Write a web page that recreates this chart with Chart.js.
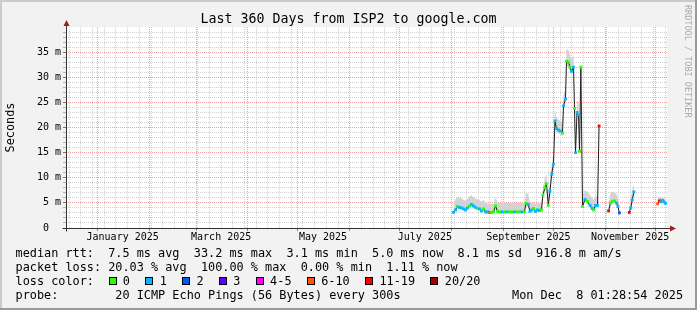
<!DOCTYPE html>
<html>
<head>
<meta charset="utf-8">
<title>Last 360 Days from ISP2 to google.com</title>
<script src="https://cdn.jsdelivr.net/npm/chart.js@4.4.1/dist/chart.umd.min.js"></script>
<style>
  html, body { margin: 0; padding: 0; background: #f2f2f2; }
  canvas { display: block; }
</style>
</head>
<body>
<canvas id="chart" width="697" height="310"></canvas>
<script>
// time range: 360 days ending Mon Dec 8 01:28:54 2025
const rangeStart = Date.UTC(2024, 11, 13, 1, 28, 54);
const rangeDays = 360;

// samples, x = days since range start (null = no data)
const days = [
  232.1, 233.3, 234.5, 235.7, 236.9, 238.1, 239.3, 240.5, 241.7, 242.9,
  244.1, 245.3, 246.5, 247.7, 248.9, 250.1, 251.3, 252.5, 253.7, 254.9,
  256.1, 257.3, 258.5, 259.7, 261.2, 262.7, 264.2, 265.7, 267.2, 268.7,
  270.1, 271.6, 273.1, 274.6, 275.5, 276.9, 277.9, 279.1, 280.0, 281.2,
  282.4, 283.6, 284.8, 285.7, 286.9, 287.8, 288.9, 289.9, 290.9, 292.0,
  292.9, 293.8, 295.0, 296.2, 297.4, 298.0, 299.2, 299.8, 301.0, 301.9,
  302.8, 304.0, 304.6, 305.2, 306.1, 307.0, 307.6, 308.4, 309.4, 310.9,
  312.3, 313.9, 315.1, 316.1, 317.2, 318.4, 319.3, 320.0,
  325.0, 326.2, 327.4, 328.5, 329.7, 330.6, 331.5, 332.5,
  337.4, 338.3, 339.2, 340.2, 341.0,
  354.4, 355.4, 356.4, 357.3, 358.2, 359.1
];

// median rtt in ms
const medianMs = [
  3.1, 3.6, 4.3, 4.1, 4.0, 3.8, 3.6, 4.0, 4.4, 4.7,
  4.4, 4.1, 3.9, 3.8, 3.4, 3.8, 3.2, 3.2, 3.1, 3.1,
  3.2, 4.4, 3.3, 3.2, 3.2, 3.2, 3.2, 3.2, 3.2, 3.2,
  3.2, 3.2, 3.2, 3.2, 4.9, 4.7, 3.3, 3.6, 3.9, 3.3,
  3.6, 3.5, 3.6, 6.6, 8.0, 8.8, 4.5, 7.3, 10.7, 12.7,
  21.3, 19.8, 19.5, 19.3, 18.9, 24.3, 25.7, 33.2, 33.0, 32.0,
  31.2, 32.0, 23.8, 15.0, 23.0, 22.5, 15.3, 32.0, 4.3, 5.7,
  5.3, 4.5, 3.9, 3.6, 4.5, 4.5, 20.3, null,
  3.4, 5.0, 5.3, 5.4, 5.0, 4.3, 3.0, null,
  3.1, 4.0, 5.6, 7.2, null,
  4.8, 5.4, 5.2, 5.5, 5.2, 4.9
];

// loss bucket per sample (index into lossLabels)
const lossClass = [
  1, 1, 0, 1, 1, 1, 1, 1, 0, 1,
  1, 1, 0, 1, 1, 0, 1, 1, 5, 0,
  0, 0, 0, 0, 1, 0, 1, 0, 0, 1,
  0, 0, 1, 0, 0, 1, 1, 1, 0, 1,
  1, 1, 0, 0, 0, 0, 0, 1, 1, 1,
  1, 1, 1, 1, 0, 1, 1, 0, 0, 0,
  1, 1, 0, 1, 1, 1, 0, 0, 0, 1,
  0, 1, 1, 0, 1, 1, 6, null,
  6, 0, 0, 0, 1, 1, 2, null,
  6, 1, 1, 1, null,
  5, 6, 1, 1, 1, 1
];

// smoke (spread of the 20 pings), ms
const smokeLowMs = [
  2.9, 3.3, 3.9, 3.8, 3.7, 3.5, 3.3, 3.7, 4.0, 4.3,
  4.0, 3.8, 3.6, 3.5, 3.1, 3.4, 2.9, 2.9, 2.9, 2.9,
  2.9, 3.9, 3.0, 3.0, 3.0, 3.0, 3.0, 3.0, 3.0, 3.0,
  3.0, 3.0, 3.0, 3.0, 4.3, 4.2, 3.0, 3.3, 3.5, 3.0,
  3.3, 3.2, 3.3, 6.0, 7.4, 8.1, 4.1, 6.8, 10.0, 12.0,
  20.4, 19.1, 18.8, 18.6, 18.2, 23.5, 24.8, 32.2, 32.0, 31.2,
  30.4, 31.2, 23.0, 14.3, 22.2, 21.8, 14.6, 31.2, 3.9, 5.2,
  4.8, 4.1, 3.5, 3.3, 4.1, 4.1, 19.0, null,
  3.1, 4.6, 4.9, 5.0, 4.6, 3.9, 2.8, null,
  2.9, 3.7, 5.2, 6.7, null,
  4.5, 5.0, 4.9, 5.1, 4.9, 4.6
];
const smokeHighMs = [
  5.0, 5.6, 6.2, 6.0, 5.9, 5.6, 5.4, 5.8, 6.3, 6.5,
  6.1, 5.8, 5.7, 5.5, 5.2, 5.6, 5.0, 4.9, 4.8, 4.8,
  4.9, 6.1, 5.1, 5.0, 5.0, 5.0, 5.0, 5.0, 5.0, 5.0,
  5.0, 5.0, 5.0, 5.0, 7.0, 6.8, 5.0, 5.0, 5.2, 4.8,
  5.0, 4.9, 5.0, 8.2, 9.8, 10.6, 6.3, 9.0, 12.6, 14.8,
  23.6, 22.0, 21.5, 21.4, 21.0, 26.5, 27.8, 35.6, 35.4, 34.5,
  33.6, 34.4, 26.0, 17.0, 25.3, 24.8, 17.4, 34.2, 6.8, 7.5,
  7.2, 6.6, 6.0, 5.6, 6.3, 6.2, 27.0, null,
  5.0, 7.0, 7.2, 7.0, 6.8, 6.0, 4.6, null,
  4.8, 6.0, 7.5, 8.7, null,
  6.0, 6.2, 6.0, 6.0, 5.9, 5.7
];

const lossLabels = ['0', '1', '2', '3', '4-5', '6-10', '11-19', '20/20'];
const lossColors = ['#26ff00', '#00b8ff', '#0059ff', '#5e00ff', '#ff00ff', '#ff5500', '#ff0000', '#a10000'];

// y axis: minor line every 1 ms, labels every 5 ms
const yMax = 40;
const yLabelValues = [0, 5, 10, 15, 20, 25, 30, 35];
const yLabelTexts = ['0', '5 m', '10 m', '15 m', '20 m', '25 m', '30 m', '35 m'];

// x axis labels, centred mid-month
const labelMonths = [0, 2, 4, 6, 8, 10];
const labelTexts = ['January 2025', 'March 2025', 'May 2025', 'July 2025', 'September 2025', 'November 2025'];

const titleText = 'Last 360 Days from ISP2 to google.com';
const statLines = [
  'median rtt:  7.5 ms avg  33.2 ms max  3.1 ms min  5.0 ms now  8.1 ms sd  916.8 m am/s',
  'packet loss: 20.03 % avg  100.00 % max  0.00 % min  1.11 % now'
];
const probeText = 'probe:        20 ICMP Echo Pings (56 Bytes) every 300s';
const stampText = 'Mon Dec  8 01:28:54 2025';
const markText = 'RRDTOOL / TOBI OETIKER';

const MONO = "'DejaVu Sans Mono', monospace";
const GRID = '#d2d2d2';
const MGRID = '#f0a3a3';

// x ticks: sundays (minor), month starts (major), label points
const dayOf = (y, m, d) => (Date.UTC(y, m, d) - rangeStart) / 86400000;
const xTicks = [];
for (let m = 0; m < 12; m++) xTicks.push({ value: dayOf(2025, m, 1), kind: 'month' });
for (let d = dayOf(2024, 11, 15); d < rangeDays; d += 7) {
  if (!xTicks.some(t => Math.abs(t.value - d) < 0.01)) xTicks.push({ value: d, kind: 'week' });
}
labelMonths.forEach((m, i) => xTicks.push({ value: dayOf(2025, m, 16), kind: 'label', text: labelTexts[i] }));
xTicks.sort((a, b) => a.value - b.value);

const pts = arr => days.map((d, i) => ({ x: d, y: arr[i] }));

const rrdFrame = {
  id: 'rrdFrame',
  beforeDraw(chart) {
    const { ctx, chartArea: a, width: w, height: h } = chart;
    ctx.save();
    ctx.fillStyle = '#f2f2f2';
    ctx.fillRect(0, 0, w, h);
    ctx.fillStyle = '#cbcbcb';
    ctx.fillRect(0, 0, w, 2);
    ctx.fillRect(0, 0, 2, h);
    ctx.fillStyle = '#9a9a9a';
    ctx.fillRect(0, h - 2, w, 2);
    ctx.fillRect(w - 2, 0, 2, h);
    ctx.fillStyle = '#ffffff';
    ctx.fillRect(a.left, a.top, a.right - a.left, a.bottom - a.top);
    ctx.restore();
  },
  afterDraw(chart) {
    const { ctx, chartArea: a } = chart;
    const x0 = Math.round(a.left) + 0.5;
    const yb = Math.round(a.bottom) + 0.5;
    ctx.save();

    // axes + arrows
    ctx.strokeStyle = '#333333';
    ctx.lineWidth = 1;
    ctx.beginPath();
    ctx.moveTo(x0, yb + 3);
    ctx.lineTo(x0, a.top - 4);
    ctx.moveTo(x0 - 4, yb);
    ctx.lineTo(a.right + 3, yb);
    ctx.stroke();
    ctx.fillStyle = '#9b1f1f';
    ctx.beginPath();
    ctx.moveTo(x0, a.top - 7);
    ctx.lineTo(x0 - 3, a.top - 1);
    ctx.lineTo(x0 + 3, a.top - 1);
    ctx.fill();
    ctx.beginPath();
    ctx.moveTo(a.right + 9, yb);
    ctx.lineTo(a.right + 3, yb - 3);
    ctx.lineTo(a.right + 3, yb + 3);
    ctx.fill();

    // title
    ctx.fillStyle = '#000';
    ctx.textBaseline = 'alphabetic';
    ctx.font = '13.3px ' + MONO;
    ctx.textAlign = 'center';
    ctx.fillText(titleText, 348.5, 23);

    // legend
    ctx.textAlign = 'left';
    ctx.font = '11.85px ' + MONO;
    ctx.fillText(statLines[0], 15.5, 257);
    ctx.fillText(statLines[1], 15.5, 271);
    ctx.fillText('loss color:', 15.5, 285);
    const cw = 7.13;
    let bx = 108.5;
    lossLabels.forEach((lab, i) => {
      const rx = Math.round(bx);
      ctx.fillStyle = lossColors[i];
      ctx.fillRect(rx, 277, 8, 8);
      ctx.strokeStyle = '#000';
      ctx.strokeRect(rx + 0.5, 277.5, 7, 7);
      ctx.fillStyle = '#000';
      ctx.fillText(lab, bx + 14.3, 285);
      bx += 14.3 + lab.length * cw + 15.4;
    });
    ctx.fillText(probeText, 15.5, 299);
    ctx.fillText(stampText, 512, 299);

    // watermark
    ctx.translate(685, 5);
    ctx.rotate(Math.PI / 2);
    ctx.font = '8.5px ' + MONO;
    ctx.fillStyle = '#ababab';
    ctx.fillText(markText, 0, 0);
    ctx.restore();
  }
};

new Chart(document.getElementById('chart'), {
  type: 'line',
  data: {
    datasets: [
      {
        // loss colour marks on the median
        data: pts(medianMs),
        showLine: false,
        pointStyle: 'rect',
        pointRadius: 2,
        pointBorderWidth: 0,
        pointBackgroundColor: lossClass.map(k => k === null ? 'rgba(0,0,0,0)' : lossColors[k])
      },
      {
        // median line
        data: pts(medianMs),
        borderWidth: 1,
        borderColor: '#202020',
        pointRadius: 0,
        tension: 0,
        spanGaps: false
      },
      {
        // smoke top
        data: pts(smokeHighMs),
        borderWidth: 0,
        pointRadius: 0,
        backgroundColor: '#d3d3d3',
        fill: 3,
        tension: 0,
        spanGaps: false
      },
      {
        // smoke bottom
        data: pts(smokeLowMs),
        borderWidth: 0,
        pointRadius: 0,
        fill: false,
        tension: 0,
        spanGaps: false
      }
    ]
  },
  options: {
    responsive: false,
    animation: false,
    devicePixelRatio: 1,
    events: [],
    layout: { padding: { left: 0, right: 30, top: 27, bottom: 68 } },
    plugins: {
      legend: { display: false },
      tooltip: { enabled: false },
      title: { display: false }
    },
    scales: {
      x: {
        type: 'linear',
        min: 0,
        max: rangeDays,
        afterBuildTicks: s => { s.ticks = xTicks.map(t => ({ value: t.value })); },
        afterFit: s => { s.height = 14; },
        ticks: {
          autoSkip: false,
          maxRotation: 0,
          minRotation: 0,
          padding: 0,
          color: '#000',
          font: { family: MONO, size: 10 },
          callback: (v, i) => xTicks[i] && xTicks[i].kind === 'label' ? xTicks[i].text : ''
        },
        grid: {
          lineWidth: 1,
          tickLength: 3,
          color: c => {
            const t = xTicks[c.index];
            if (!t || t.kind === 'label') return 'rgba(0,0,0,0)';
            return t.kind === 'month' ? MGRID : GRID;
          },
          tickColor: c => {
            const t = xTicks[c.index];
            return t && t.kind === 'month' ? '#b07070' : 'rgba(0,0,0,0)';
          }
        },
        border: { display: false, dash: [1, 1] }
      },
      y: {
        type: 'linear',
        min: 0,
        max: yMax,
        afterBuildTicks: s => {
          const t = [];
          for (let v = 0; v <= yMax; v++) t.push({ value: v });
          s.ticks = t;
        },
        afterFit: s => { s.width = 66; },
        ticks: {
          autoSkip: false,
          padding: 2,
          color: '#000',
          font: { family: MONO, size: 10 },
          callback: v => {
            const k = yLabelValues.indexOf(v);
            return k < 0 ? '' : yLabelTexts[k].padEnd(3);
          }
        },
        grid: {
          lineWidth: 1,
          tickLength: 3,
          color: c => {
            const v = c.tick ? c.tick.value : 0;
            if (v === 0 || v === yMax) return 'rgba(0,0,0,0)';
            return v % 5 === 0 ? MGRID : GRID;
          },
          tickColor: c => {
            const v = c.tick ? c.tick.value : 0;
            if (v === yMax) return 'rgba(0,0,0,0)';
            return v % 5 === 0 ? '#777' : '#b5b5b5';
          }
        },
        border: { display: false, dash: [1, 1] },
        title: {
          display: true,
          text: 'Seconds',
          color: '#000',
          font: { family: MONO, size: 11.85 },
          padding: { top: 4, bottom: 0 }
        }
      }
    }
  },
  plugins: [rrdFrame]
});
</script>
</body>
</html>
